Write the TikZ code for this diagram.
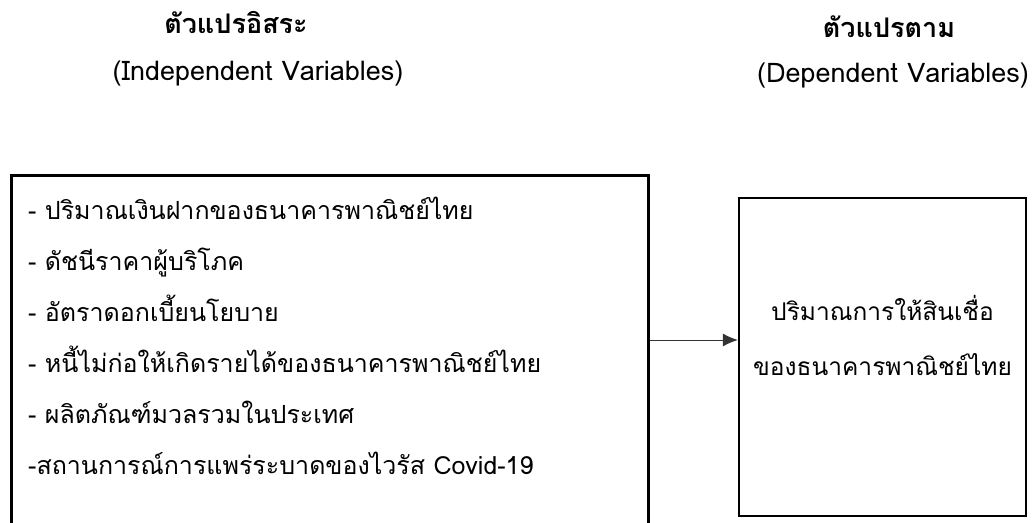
\documentclass[tikz,border=0pt]{standalone}
\usepackage{fontspec}
\setmainfont[Script=Thai]{Loma}
\usetikzlibrary{arrows.meta}
\begin{document}
\begin{tikzpicture}[x=1pt,y=-1pt,
  body/.style={font=\fontsize{25}{29}\selectfont, inner sep=0pt, anchor=base west},
  dvtext/.style={font=\fontsize{24.5}{28}\selectfont, inner sep=0pt, anchor=base},
  headth/.style={font=\fontsize{27}{31}\selectfont\bfseries, inner sep=0pt, anchor=base},
  headen/.style={font=\fontsize{27}{31}\selectfont, inner sep=0pt, anchor=base},
  ivbox/.style={draw, line width=3pt, inner sep=0pt, anchor=north west},
  dvbox/.style={draw, line width=2.3pt, inner sep=0pt},
  link/.style={line width=1pt, draw=black!80, -{Latex[length=15pt,width=13pt]}}]
\useasboundingbox (0,0) rectangle (1035,522);
% headers
\node[headth] (h1) at (236,33) {ตัวแปรอิสระ};
\node[headen] (h2) at (258,80) {(Independent Variables)};
\node[headth] (h3) at (889,37) {ตัวแปรตาม};
\node[headen] (h4) at (893,82) {(Dependent Variables)};
% boxes
\node[ivbox, minimum width=637.5pt, minimum height=370pt] (iv) at (9.5,173.5) {};
\node[dvbox, minimum width=287pt, minimum height=318pt] (dv) at (882.5,357) {};
% left texts
\node[body] (t1) at (28,219) {- ปริมาณเงินฝากของธนาคารพาณิชย์ไทย};
\node[body] (t2) at (28,270) {- ดัชนีราคาผู้บริโภค};
\node[body] (t3) at (28,321) {- อัตราดอกเบี้ยนโยบาย};
\node[body] (t4) at (28,372) {- หนี้ไม่ก่อให้เกิดรายได้ของธนาคารพาณิชย์ไทย};
\node[body] (t5) at (28,423) {- ผลิตภัณฑ์มวลรวมในประเทศ};
\node[body] (t6) at (28,474) {-สถานการณ์การแพร่ระบาดของไวรัส Covid-19};
% right texts
\node[dvtext] (d1) at (882.5,320) {ปริมาณการให้สินเชื่อ};
\node[dvtext] (d2) at (882.5,375) {ของธนาคารพาณิชย์ไทย};
% arrow
\coordinate (ay) at (700,340);
\draw[link] (iv.north east |- ay) -- (dv.west |- ay);
\end{tikzpicture}
\end{document}
